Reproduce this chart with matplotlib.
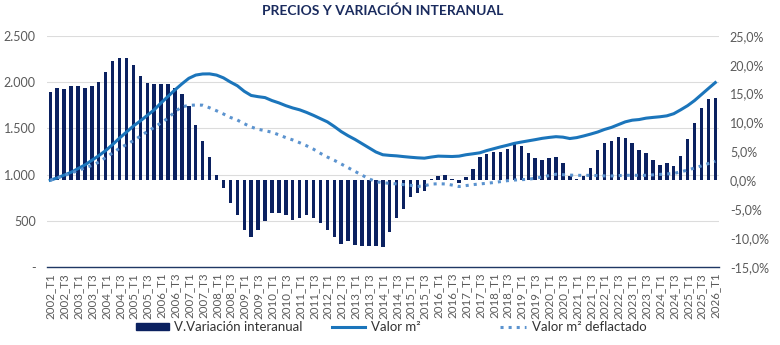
import matplotlib
matplotlib.use('Agg')
import matplotlib.pyplot as plt
from matplotlib.ticker import FuncFormatter, MultipleLocator

plt.rcParams['font.family'] = ['Lato', 'DejaVu Sans']

years = list(range(2002, 2027))
quarters = [f'{y}_T{q}' for y in years for q in (1, 2, 3, 4)][:97]

# variacion interanual (%)
variacion = [15.3, 15.9, 15.8, 16.4, 16.4, 15.9, 16.3, 17.0, 18.7, 20.6,
             21.2, 21.1, 20.0, 18.0, 16.8, 16.6, 16.7, 16.7, 15.9, 15.0,
             12.8, 9.6, 6.9, 4.1, 0.9, -1.3, -3.9, -6.0, -8.5, -9.7,
             -8.5, -7.0, -5.6, -5.6, -5.9, -6.9, -6.4, -6.0, -6.4, -7.3,
             -8.5, -9.8, -10.9, -10.5, -11.1, -11.4, -11.4, -11.4, -11.5, -8.9,
             -6.5, -4.9, -2.8, -2.1, -1.8, 0.2, 0.8, 0.9, 0.3, -0.4,
             0.6, 2.0, 4.0, 4.6, 4.9, 5.0, 5.5, 6.5, 6.0, 4.7,
             3.9, 3.6, 3.8, 4.0, 3.1, 0.8, 0.3, 0.8, 2.1, 5.2,
             6.5, 6.9, 7.5, 7.4, 6.5, 5.2, 4.8, 3.6, 2.7, 3.0,
             2.5, 4.2, 7.2, 9.9, 12.5, 14.0, 14.3]

valor_m2 = [940, 965, 995, 1025, 1065, 1105, 1155, 1205, 1260, 1325,
            1395, 1460, 1525, 1580, 1640, 1700, 1775, 1845, 1915, 1980,
            2040, 2075, 2087, 2088, 2075, 2045, 2000, 1960, 1900, 1855,
            1842, 1832, 1800, 1775, 1745, 1720, 1700, 1672, 1640, 1605,
            1570, 1520, 1465, 1420, 1380, 1335, 1290, 1245, 1215, 1208,
            1203, 1195, 1188, 1182, 1178, 1190, 1200, 1198, 1196, 1200,
            1215, 1225, 1236, 1260, 1280, 1300, 1318, 1338, 1352, 1365,
            1378, 1392, 1402, 1410, 1405, 1390, 1400, 1418, 1438, 1460,
            1488, 1510, 1540, 1570, 1588, 1595, 1610, 1618, 1625, 1635,
            1658, 1700, 1745, 1800, 1865, 1930, 1994]

valor_deflactado = [940, 965, 990, 1015, 1045, 1072, 1100, 1135, 1185, 1235,
                    1285, 1325, 1367, 1415, 1465, 1510, 1560, 1610, 1680, 1732,
                    1748, 1752, 1750, 1722, 1690, 1655, 1618, 1590, 1550, 1515,
                    1490, 1475, 1458, 1430, 1400, 1375, 1345, 1312, 1275, 1230,
                    1190, 1155, 1115, 1075, 1035, 995, 955, 925, 912, 907,
                    900, 893, 885, 872, 880, 898, 902, 900, 888, 872,
                    882, 892, 900, 907, 915, 925, 935, 942, 946, 950,
                    962, 975, 990, 1005, 1000, 995, 993, 992, 993, 990,
                    987, 986, 990, 993, 993, 993, 993, 998, 1003, 1008,
                    1013, 1030, 1050, 1072, 1095, 1120, 1145]

navy = '#0b2160'
blue = '#1b75bb'
light = '#5b93cf'
grey = '#5a5a5a'

x = list(range(len(quarters)))

fig = plt.figure(figsize=(7.8, 3.45), dpi=100)
ax = fig.add_axes([0.06, 0.2252, 0.8615, 0.6713])
ax2 = ax.twinx()
ax3 = ax.twinx()

# left scale + grid
ax.set_ylim(0, 2500)
ax.set_xlim(-0.5, 96.5)
ax.yaxis.set_major_locator(MultipleLocator(500))
ax.yaxis.set_major_formatter(FuncFormatter(
    lambda v, p: '-' if v == 0 else f'{int(v):,}'.replace(',', '.')))
ax.grid(axis='y', color='#dcdcdc', linewidth=0.8)
ax.set_xticks(x[::2])
ax.set_xticklabels(quarters[::2], rotation=90, fontsize=8.3, color=grey)
ax.tick_params(axis='y', labelsize=9, colors=grey, length=0, pad=8)
ax.tick_params(axis='x', length=0, pad=4)

# bars on the right scale
ax2.bar(x, [v / 100 for v in variacion], width=0.5, color=navy)
ax2.set_ylim(-0.15, 0.25)
ax2.yaxis.set_major_locator(MultipleLocator(0.05))
ax2.yaxis.set_major_formatter(FuncFormatter(
    lambda v, p: f'{v * 100:.1f}%'.replace('.', ',')))
ax2.tick_params(axis='y', labelsize=9, colors=grey, length=0, pad=8)

# lines on top
ax3.plot(x, valor_m2, color=blue, lw=2.2)
ax3.plot(x, valor_deflactado, color=light, lw=2.2, linestyle=':')
ax3.set_ylim(0, 2500)
ax3.set_yticks([])

for a in (ax, ax2, ax3):
    for s in a.spines.values():
        s.set_visible(False)
ax.spines['bottom'].set_visible(True)
ax.spines['bottom'].set_color('#1f3864')
ax.spines['bottom'].set_linewidth(1)

fig.text(0.491, 0.968, 'PRECIOS Y VARIACIÓN INTERANUAL', ha='center', va='center',
         fontsize=10, fontweight='bold', color='#1a2b5e')

h1 = plt.Rectangle((0, 0), 1, 1, color=navy)
h2, = ax3.plot([], [], color=blue, lw=2.2)
h3, = ax3.plot([], [], color=light, lw=2.2, linestyle=':')
items = [(h1, 'V.Variación interanual', 0.174, 2.5),
         (h2, 'Valor m²', 0.426, 2.5),
         (h3, 'Valor m² deflactado', 0.641, 2.0)]
for h, lab, xpos, hl in items:
    fig.legend(handles=[h], labels=[lab], loc='center left',
               bbox_to_anchor=(xpos, 0.052), frameon=False, fontsize=9.5,
               handlelength=hl, handleheight=0.5, handletextpad=0.4,
               borderpad=0, borderaxespad=0, labelcolor='#333333')

fig.savefig('out.png', dpi=100)
